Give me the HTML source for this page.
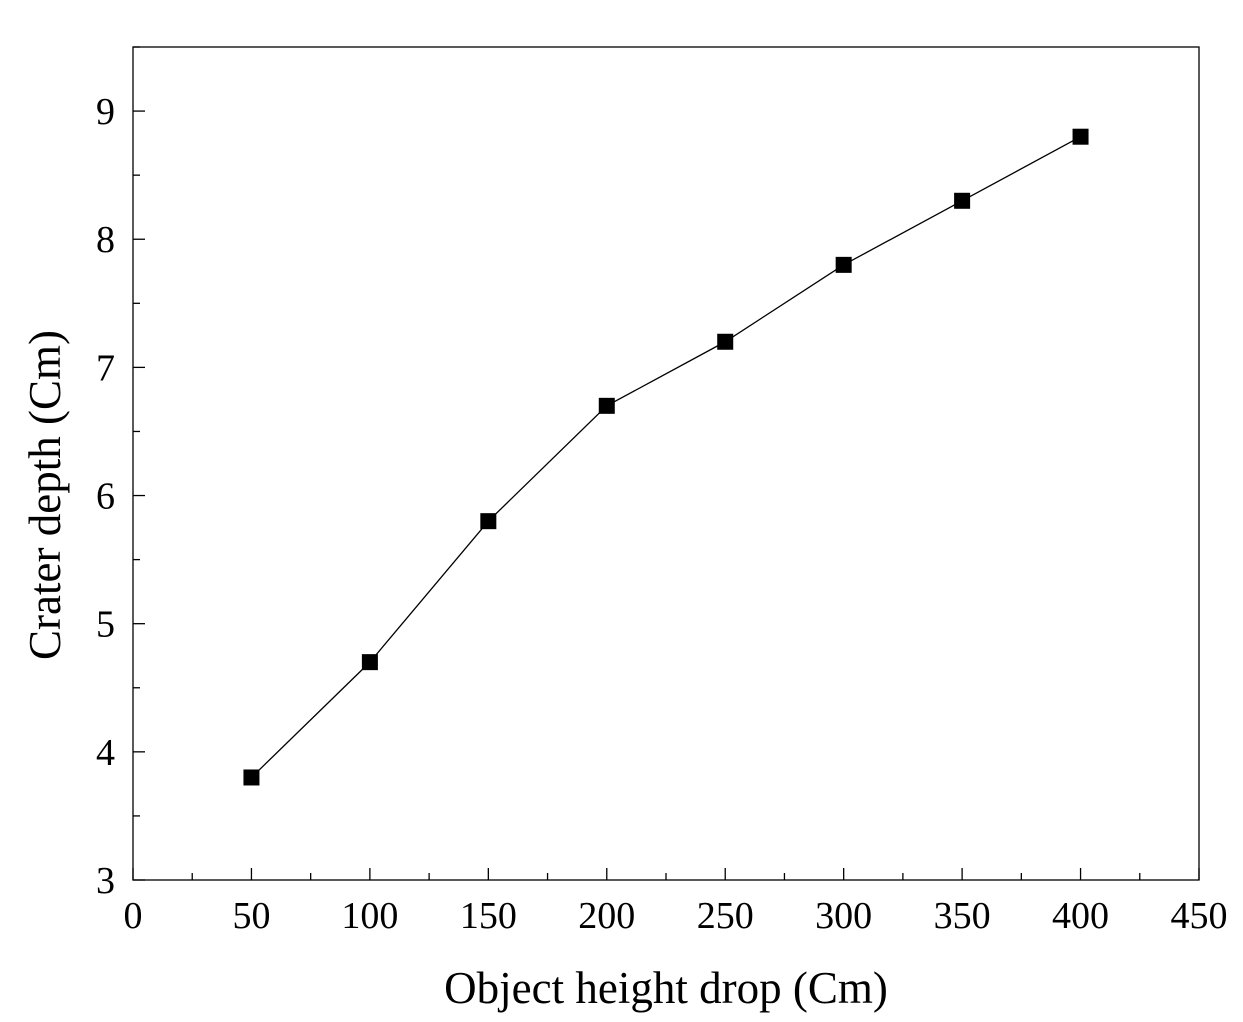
<!DOCTYPE html>
<html><head><meta charset="utf-8"><style>
html,body{margin:0;padding:0;background:#fff;}
svg text{font-family:"Liberation Serif",serif;fill:#000;}
</style></head><body>
<svg id="chart" width="1243" height="1017" xmlns="http://www.w3.org/2000/svg">
<rect x="133" y="47" width="1066" height="833" fill="none" stroke="#000" stroke-width="1.3"/>
<g id="ticks"></g>
<g id="series"></g>
<text x="666" y="1003" font-size="45" text-anchor="middle">Object height drop (Cm)</text>
<text transform="translate(60,495) rotate(-90)" font-size="45" text-anchor="middle">Crater depth (Cm)</text>
</svg>
<script>
const xCategories=[50,100,150,200,250,300,350,400];
const depthValues=[3.8,4.7,5.8,6.7,7.2,7.8,8.3,8.8];
const xTickLabels=[0,50,100,150,200,250,300,350,400,450];
const yTickLabels=[3,4,5,6,7,8,9];
const NS="http://www.w3.org/2000/svg";
const L=133,R=1199,T=47,B=880;
const sx=v=>L+(v-0)/(450-0)*(R-L);
const sy=v=>B-(v-3)/(9.5-3)*(B-T);
function mk(tag,attrs,parent){const e=document.createElementNS(NS,tag);for(const k in attrs)e.setAttribute(k,attrs[k]);parent.appendChild(e);return e;}
const tg=document.getElementById('ticks');
xTickLabels.forEach(v=>{
  const x=sx(v);
  const t=mk('line',{x1:x,x2:x,y1:B,y2:B-12,stroke:'#000','stroke-width':1.3},tg);
  
  
  const m=mk('line',{x1:sx(v+25),x2:sx(v+25),y1:B,y2:B-7,stroke:'#000','stroke-width':1.3},tg);
  
  
  const lb=mk('text',{x:x,y:928,'font-size':38,'text-anchor':'middle'},tg);
  lb.textContent=v;
  
  
});
yTickLabels.forEach(v=>{
  const y=sy(v);
  const t=mk('line',{x1:L,x2:L+12,y1:y,y2:y,stroke:'#000','stroke-width':1.3},tg);
  
  
  const m=mk('line',{x1:L,x2:L+7,y1:sy(v+0.5),y2:sy(v+0.5),stroke:'#000','stroke-width':1.3},tg);
  
  
  const lb=mk('text',{x:115,y:y+13,'font-size':38,'text-anchor':'end'},tg);
  lb.textContent=v;
  
  
});
const sg=document.getElementById('series');
const pts=xCategories.map((c,i)=>sx(c)+','+sy(depthValues[i])).join(' ');
const pl=mk('polyline',{points:pts,fill:'none',stroke:'#000','stroke-width':1.3},sg);


xCategories.forEach((c,i)=>{
  const r=mk('rect',{x:sx(c)-8,y:sy(depthValues[i])-8,width:16,height:16,fill:'#000'},sg);
  
  
});
</script>
</body></html>
